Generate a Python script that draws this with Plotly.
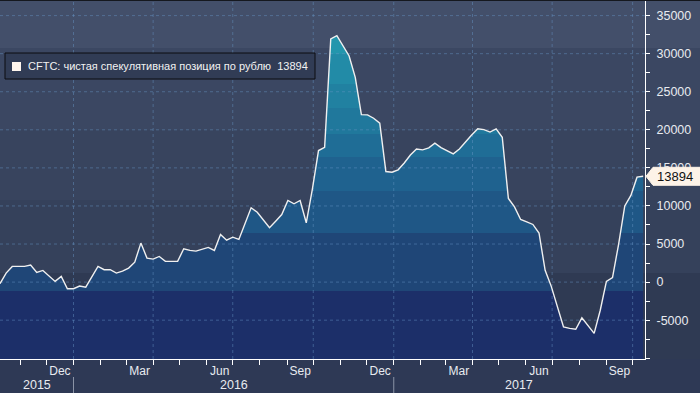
import plotly.graph_objects as go
import pandas as pd

# ---------------- data ----------------
START_DATE = "2015-10-09"          # first weekly observation (Friday)
net_position = [
    -210, 1180, 2060, 2060, 2060, 2230, 1270, 1530, 750, 90,
    750, -870, -870, -520, -660, 700, 2060, 1630, 1630, 1180,
    1440, 1840, 2620, 5120, 3150, 3020, 3370, 2720, 2720, 2720,
    4380, 4160, 4070, 4330, 4550, 4160, 6260, 5500, 5900, 5600,
    7700, 9760, 9180, 8160, 7140, 8000, 8880, 10720, 10290, 10720,
    7790, 12200, 17280, 17710, 31930, 32370, 31000, 29700, 26900, 22000,
    21960, 21520, 20880, 14520, 14430, 14750, 15640, 16690, 17480, 17370,
    17630, 18240, 17670, 17210, 16850, 17480, 18460, 19310, 20130, 20030,
    19710, 20130, 19020, 10980, 9870, 8230, 7900, 7570, 6450, 1540,
    -560, -3190, -5880, -6070, -6200, -4700, -5680, -6730, -3700, 100,
    580, 5000, 10000, 11380, 13780, 13894,
]
dates = pd.date_range(START_DATE, periods=len(net_position), freq="7D")
LAST_VALUE = net_position[-1]
SERIES_NAME = "CFTC: чистая спекулятивная позиция по рублю"

Y_TICKS = [-5000, 0, 5000, 10000, 15000, 20000, 25000, 30000, 35000]
Y_MARKS = [-10000] + Y_TICKS
MONTH_LABELS = ["Dec", "Mar", "Jun", "Sep", "Dec", "Mar", "Jun", "Sep"]
MONTH_STARTS = ["2015-12-01", "2016-03-01", "2016-06-01", "2016-09-01",
                "2016-12-01", "2017-03-01", "2017-06-01", "2017-09-01"]
YEARS = [2015, 2016, 2017]
GRID_DATES = ["2016-01-01", "2016-04-01", "2016-07-01", "2016-10-01",
              "2017-01-01", "2017-04-01", "2017-07-01", "2017-10-01"]

# ---------------- style ----------------
X_RANGE = [pd.Timestamp(START_DATE), pd.Timestamp("2017-10-15 03:00")]
Y_MIN, Y_MAX = -10100, 37050
W, H = 700, 393
ML, MR, MT, MB = 0, 55, 0, 34
PW, PH = W - ML - MR, H - MT - MB
FONT = "Liberation Sans"
TXT = "#e8ebf0"

BAND_EDGES = [-1200, 6500, 12000, 16400, 19500, 22800, 26000, 30000]
BAND_COLORS = ["#1c2f69", "#1f4677", "#1f5786", "#1f628f", "#1f6d96",
               "#20789c", "#2181a1", "#228ba7", "#2396ad"]
BG_EDGES_PX = [0, 48, 130, 200, 273, PH]
BG_COLORS = ["#434f6a", "#3b4762", "#38445e", "#35415b", "#2f3a53"]


def norm(v):
    return (v - Y_MIN) / (Y_MAX - Y_MIN)


colorscale = [[0.0, BAND_COLORS[0]]]
for i, e in enumerate(BAND_EDGES):
    p = norm(e)
    colorscale.append([p, BAND_COLORS[i]])
    colorscale.append([p, BAND_COLORS[i + 1]])
colorscale.append([1.0, BAND_COLORS[-1]])

fig = go.Figure()

# baseline at bottom of the plot for the area fill
fig.add_trace(go.Scatter(x=dates, y=[Y_MIN] * len(dates), mode="lines",
                         line=dict(width=0), hoverinfo="skip", showlegend=False))
fig.add_trace(go.Scatter(
    x=dates, y=net_position, mode="lines", line=dict(width=0),
    fill="tonexty",
    fillgradient=dict(type="vertical", colorscale=colorscale, start=Y_MIN, stop=Y_MAX),
    hoverinfo="skip", showlegend=False))

# dashed gridlines (drawn above the fill)
gx, gy = [], []
for v in Y_TICKS:
    gx += [X_RANGE[0], X_RANGE[1], None]
    gy += [v, v, None]
for d in GRID_DATES:
    gx += [pd.Timestamp(d), pd.Timestamp(d), None]
    gy += [Y_MIN, Y_MAX, None]
fig.add_trace(go.Scatter(x=gx, y=gy, mode="lines",
                         line=dict(color="rgba(105,150,200,0.45)", width=1, dash="3px,3px"),
                         hoverinfo="skip", showlegend=False))

# the white series line
fig.add_trace(go.Scatter(x=dates, y=net_position, mode="lines",
                         line=dict(color="#f0f0f0", width=1.4),
                         hoverinfo="skip", showlegend=False))

# triangle markers on the right axis
fig.add_trace(go.Scatter(x=[1 + 4 / PW] * len(Y_MARKS), y=Y_MARKS, xaxis="x2",
                         mode="markers", cliponaxis=False,
                         marker=dict(symbol="triangle-right", size=7, color="white"),
                         hoverinfo="skip", showlegend=False))

# ---------------- shapes ----------------
shapes = []
for i, c in enumerate(BG_COLORS):
    shapes.append(dict(type="rect", xref="paper", yref="paper", layer="below",
                       x0=0, x1=W / PW, y0=1 - BG_EDGES_PX[i + 1] / PH,
                       y1=1 - BG_EDGES_PX[i] / PH, fillcolor=c, line=dict(width=0)))
# top border
shapes.append(dict(type="line", xref="paper", yref="paper", x0=0, x1=W / PW,
                   y0=1, y1=1, line=dict(color="#15181f", width=2)))
# year separators
for y in YEARS[1:]:
    shapes.append(dict(type="line", xref="x", yref="paper",
                       x0=pd.Timestamp(f"{y}-01-01"), x1=pd.Timestamp(f"{y}-01-01"),
                       y0=-18 / PH, y1=-34 / PH,
                       line=dict(color="#8a93a6", width=1)))
# legend box
shapes.append(dict(type="rect", xref="paper", yref="paper", layer="above",
                   x0=5 / PW, x1=315 / PW, y0=1 - 79 / PH, y1=1 - 53 / PH,
                   fillcolor="#313c55", line=dict(color="#0c0d10", width=1)))
shapes.append(dict(type="rect", xref="paper", yref="paper", layer="above",
                   x0=12 / PW, x1=21 / PW, y0=1 - 71 / PH, y1=1 - 62 / PH,
                   fillcolor="#fff6ee", line=dict(width=0)))
# last value tag
shapes.append(dict(type="path", xref="paper", yref="y", layer="above",
                   xsizemode="pixel", ysizemode="pixel", xanchor=1, yanchor=LAST_VALUE,
                   path="M1,0 L8,9 L60,9 L60,-9 L8,-9 Z",
                   fillcolor="#fdf3e8", line=dict(color="#fdf3e8", width=1)))

# ---------------- annotations ----------------
annotations = [
    dict(xref="paper", yref="paper", x=26 / PW, y=1 - 66.5 / PH, xanchor="left",
         yanchor="middle", showarrow=False,
         text=f"{SERIES_NAME}\u00a0 {LAST_VALUE}",
         font=dict(family=FONT, size=11, color="#f2f2f2")),
    dict(xref="paper", yref="y", x=1, y=LAST_VALUE, xshift=10, xanchor="left",
         yanchor="middle", showarrow=False, text=str(LAST_VALUE),
         font=dict(family=FONT, size=13, color="#111111")),
]
for y in YEARS:
    a = max(pd.Timestamp(f"{y}-01-01"), X_RANGE[0])
    b = min(pd.Timestamp(f"{y + 1}-01-01"), X_RANGE[1])
    annotations.append(dict(xref="x", yref="paper", x=a + (b - a) / 2, y=0,
                            yshift=-26, xanchor="center", yanchor="middle",
                            showarrow=False, text=str(y),
                            font=dict(family=FONT, size=12.5, color=TXT)))

month_pos = []
for m in MONTH_STARTS:
    s = pd.Timestamp(m)
    e = s + pd.offsets.MonthBegin(1)
    month_pos.append(s + (e - s) / 2)

fig.update_layout(
    width=W, height=H,
    margin=dict(l=ML, r=MR, t=MT, b=MB),
    paper_bgcolor="#2e3955", plot_bgcolor="rgba(0,0,0,0)",
    hovermode=False, showlegend=False,
    shapes=shapes, annotations=annotations,
    xaxis=dict(type="date", range=X_RANGE, showgrid=False, zeroline=False,
               showline=True, linecolor="white", linewidth=1,
               tickmode="array", tickvals=month_pos, ticktext=MONTH_LABELS,
               ticks="outside", ticklen=1, tickcolor="rgba(0,0,0,0)",
               tickfont=dict(family=FONT, size=12, color=TXT),
               minor=dict(dtick="M1", tick0="2015-11-01", ticks="outside",
                          ticklen=5, tickcolor="white", tickwidth=1, showgrid=False)),
    xaxis2=dict(overlaying="x", range=[0, 1], visible=False),
    yaxis=dict(side="right", range=[Y_MIN, Y_MAX], showgrid=False, zeroline=False,
               showline=True, linecolor="white", linewidth=1,
               tickmode="array", tickvals=Y_TICKS,
               ticktext=[str(v) for v in Y_TICKS],
               ticks="outside", ticklen=8, tickcolor="rgba(0,0,0,0)",
               tickfont=dict(family=FONT, size=12.5, color=TXT),
               minor=dict(dtick=2500, tick0=0, ticks="outside", ticklen=4,
                          tickcolor="white", showgrid=False)),
)

fig.write_html("out.html", config={"displayModeBar": False, "staticPlot": True},
               post_script="document.body.style.margin='0';document.body.style.overflow='hidden';")
